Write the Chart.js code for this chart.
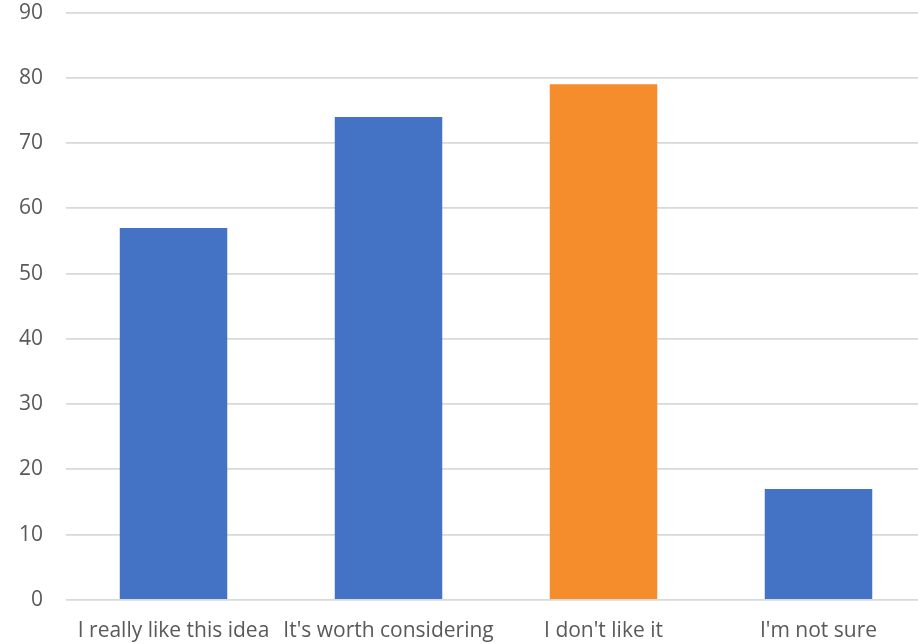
<!DOCTYPE html>
<html>
<head>
<meta charset="utf-8">
<script src="https://cdn.jsdelivr.net/npm/chart.js@4.4.0/dist/chart.umd.min.js"></script>
<style>
  html, body { margin: 0; padding: 0; background: #fff; overflow: hidden; }
  #wrap { position: absolute; left: 0; top: 0; width: 926px; height: 644px; }
</style>
</head>
<body>
<div id="wrap"><canvas id="grafico"></canvas></div>
<script>
// categorías y respuestas
const categorias = ["I really like this idea", "It's worth considering", "I don't like it", "I'm not sure"];
const respuestas = [57, 74, 79, 17];
const colores = ["#4472C4", "#4472C4", "#F58D2D", "#4472C4"];
const marcasY = [0, 10, 20, 30, 40, 50, 60, 70, 80, 90];

const fuente = { family: 'Open Sans', size: 21 };

const ctx = document.getElementById('grafico').getContext('2d');
const grafico = new Chart(ctx, {
    type: 'bar',
    data: {
        labels: categorias,
        datasets: [{
            data: respuestas,
            backgroundColor: colores,
            borderWidth: 0,
            barPercentage: 0.5,
            categoryPercentage: 1.0
        }]
    },
    options: {
        responsive: true,
        maintainAspectRatio: false,
        animation: false,
        layout: { padding: { top: 0, left: 19, right: 0, bottom: 0 } },
        plugins: {
            legend: { display: false },
            tooltip: { enabled: false }
        },
        scales: {
            x: {
                // líneas verticales invisibles; sólo sirven para separar las etiquetas del eje
                grid: { display: true, color: 'transparent', drawTicks: true, tickLength: 19 },
                border: { display: false },
                ticks: {
                    color: '#595959',
                    font: fuente,
                    padding: 0,
                    maxRotation: 0,
                    autoSkip: false
                }
            },
            y: {
                min: 0,
                max: 90,
                afterBuildTicks: (eje) => { eje.ticks = marcasY.map(v => ({ value: v })); },
                grid: { color: '#d9d9d9', lineWidth: 1.7, drawTicks: true, tickLength: 23, tickColor: 'transparent' },
                border: { display: false },
                ticks: {
                    color: '#595959',
                    font: fuente,
                    padding: 0
                }
            }
        }
    }
});
</script>
</body>
</html>
